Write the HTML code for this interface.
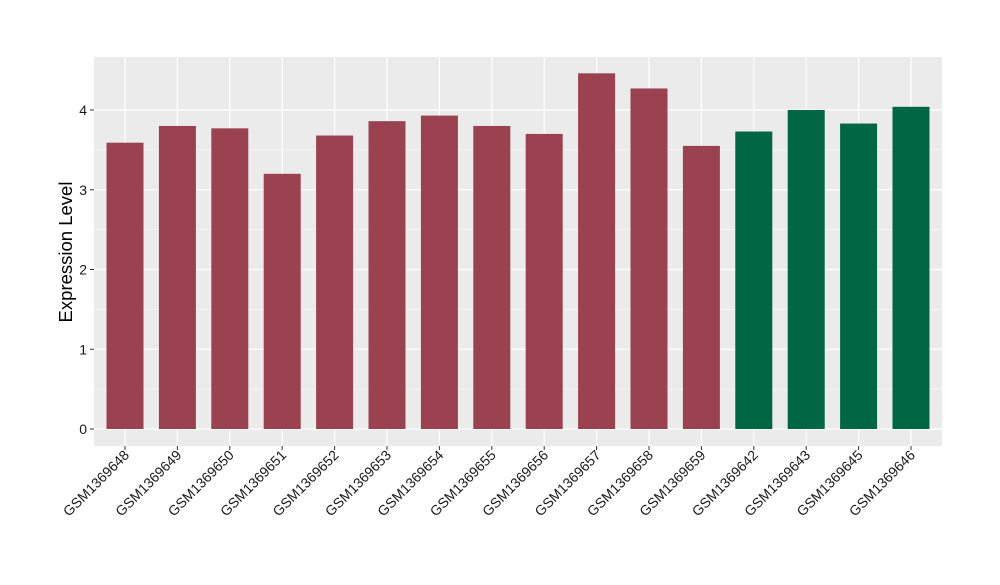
<!DOCTYPE html>
<html><head><meta charset="utf-8"><style>
body{margin:0;background:#fff}
svg text{font-family:"Liberation Sans",sans-serif}
</style></head><body>
<svg width="1000" height="580" id="c">
<rect x="94" y="57" width="848" height="389" fill="#ebebeb"/>
<g id="grid"></g><g id="bars"></g><g id="axes"></g>
<text transform="translate(72,252) rotate(-90)" text-anchor="middle" font-size="18.5" fill="#000">Expression Level</text>
</svg>
<script>
const categories=["GSM1369648","GSM1369649","GSM1369650","GSM1369651","GSM1369652","GSM1369653","GSM1369654","GSM1369655","GSM1369656","GSM1369657","GSM1369658","GSM1369659","GSM1369642","GSM1369643","GSM1369645","GSM1369646"];
const values=[3.59,3.80,3.77,3.20,3.68,3.86,3.93,3.80,3.70,4.46,4.27,3.55,3.73,4.00,3.83,4.04];
const groups=["a","a","a","a","a","a","a","a","a","a","a","a","b","b","b","b"];
const yTicks=[0,1,2,3,4];
const colors={a:"#9b4250",b:"#006644"};
const NS="http://www.w3.org/2000/svg";
const y=v=>429-v*79.75;
const x=i=>125+i*52.4;
const bw=37;
function mk(t,a,p){const e=document.createElementNS(NS,t);for(const k in a)e.setAttribute(k,a[k]);p.appendChild(e);return e;}
const grid=document.getElementById('grid'),bars=document.getElementById('bars'),axes=document.getElementById('axes');
for(let k=0;k<yTicks.length-1;k++){const l=mk('line',{x1:94,x2:942,y1:y(yTicks[k]+0.5),y2:y(yTicks[k]+0.5),stroke:'#fff','stroke-width':0.6},grid);

}
yTicks.forEach(t=>{const l=mk('line',{x1:94,x2:942,y1:y(t),y2:y(t),stroke:'#fff','stroke-width':1.2},grid);


const tk=mk('line',{x1:90,x2:94,y1:y(t),y2:y(t),stroke:'#333'},axes);


const tx=mk('text',{x:87,y:y(t)+5,'text-anchor':'end','font-size':14,fill:'#1a1a1a'},axes);tx.textContent=t;

});
categories.forEach((c,i)=>{const g=mk('line',{x1:x(i),x2:x(i),y1:57,y2:446,stroke:'#fff','stroke-width':1.2},grid);


const r=mk('rect',{x:x(i)-bw/2,y:y(values[i]),width:bw,height:y(0)-y(values[i]),fill:colors[groups[i]]},bars);


const tk=mk('line',{x1:x(i),x2:x(i),y1:446,y2:450,stroke:'#333'},axes);


const tx=mk('text',{transform:`translate(${x(i)+5},${456}) rotate(-45)`,'text-anchor':'end','font-size':14,fill:'#1a1a1a'},axes);tx.textContent=c;

});
</script>
</body></html>
